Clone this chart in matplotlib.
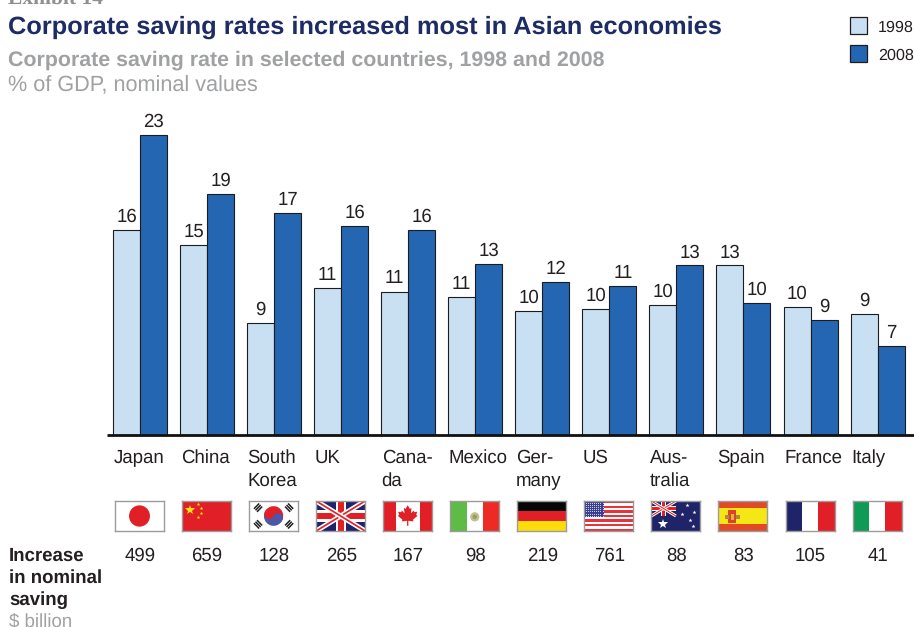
import numpy as np
import matplotlib
matplotlib.use("Agg")
import matplotlib.pyplot as plt
from matplotlib.patches import Rectangle, Circle, Wedge, Polygon

plt.rcParams['font.family'] = ['Liberation Sans', 'DejaVu Sans']
plt.rcParams['text.hinting'] = 'no_hinting'
plt.rcParams['text.hinting_factor'] = 8

countries = ["Japan", "China", "South\nKorea", "UK", "Cana-\nda", "Mexico", "Ger-\nmany", "US", "Aus-\ntralia", "Spain", "France", "Italy"]
flag_ids = ["jp", "cn", "kr", "uk", "ca", "mx", "de", "us", "au", "es", "fr", "it"]
rate_1998 = [15.7, 14.6, 8.6, 11.3, 11.0, 10.6, 9.5, 9.7, 10.0, 13.0, 9.8, 9.3]
rate_2008 = [23.0, 18.5, 17.0, 16.0, 15.7, 13.1, 11.7, 11.4, 13.0, 10.1, 8.8, 6.8]
labels_1998 = ["16", "15", "9", "11", "11", "11", "10", "10", "10", "13", "10", "9"]
labels_2008 = ["23", "19", "17", "16", "16", "13", "12", "11", "13", "10", "9", "7"]
increase = [499, 659, 128, 265, 167, 98, 219, 761, 88, 83, 105, 41]

W, H = 914, 627
C_LIGHT, C_DARK, C_EDGE = "#C9E0F3", "#2566B2", "#1C1C1C"
NAVY, GREY, INK = "#1D2C64", "#A0A1A3", "#231F20"
FS = 13.4

fig = plt.figure(figsize=(W / 100, H / 100), dpi=100, facecolor="white")

def px_axes(x0, y0, x1, y1):
    return fig.add_axes([x0 / W, 1 - y1 / H, (x1 - x0) / W, (y1 - y0) / H])

# ---- bars
BASE, TOP, PERIOD, C0 = 435, 100, 67.05, 140.0
ax = px_axes(107, TOP, 914, BASE)
ax.set_xlim((107 - C0) / PERIOD, (914 - C0) / PERIOD)
ax.set_ylim(0, (BASE - TOP) / 13.04)
ax.axis("off")
x = np.arange(len(countries))
bw = 27 / PERIOD
ax.bar(x - bw / 2, rate_1998, bw, color=C_LIGHT, edgecolor=C_EDGE, linewidth=0.8)
ax.bar(x + bw / 2, rate_2008, bw, color=C_DARK, edgecolor=C_EDGE, linewidth=0.8)
for xi, v, s in zip(x - bw / 2, rate_1998, labels_1998):
    ax.annotate(s, (xi, v), xytext=(0, 3), textcoords="offset points", ha="center", va="bottom", fontsize=FS, color=INK)
for xi, v, s in zip(x + bw / 2, rate_2008, labels_2008):
    ax.annotate(s, (xi, v), xytext=(0, 3), textcoords="offset points", ha="center", va="bottom", fontsize=FS, color=INK)
ax.plot([0, 1], [0, 0], transform=ax.transAxes, color="#111111", lw=2.0, clip_on=False, solid_capstyle="butt")

# ---- overlay in pixel coordinates
ov = fig.add_axes([0, 0, 1, 1], facecolor="none")
ov.set_xlim(0, W)
ov.set_ylim(H, 0)
ov.axis("off")

ov.text(8, 4, "Exhibit 14", fontsize=15.5, fontweight="bold", family="Liberation Serif", color="#8f8f8f", va="baseline")
ov.text(8, 34, "Corporate saving rates increased most in Asian economies", fontsize=18.3, fontweight="bold", color=NAVY, va="baseline")
ov.text(8, 66, "Corporate saving rate in selected countries, 1998 and 2008", fontsize=15.4, fontweight="bold", color=GREY, va="baseline")
ov.text(8, 91.5, "% of GDP, nominal values", fontsize=15.6, color=GREY, va="baseline")

for y, c, s in [(16.5, C_LIGHT, "1998"), (44.5, C_DARK, "2008")]:
    ov.add_patch(Rectangle((850, y), 17, 17, facecolor=c, edgecolor=C_EDGE, lw=0.9))
    ov.text(878, y + 15, s, fontsize=11.6, color=INK, va="baseline")

for i, name in enumerate(countries):
    cx = C0 + PERIOD * i
    for j, line in enumerate(name.split("\n")):
        ov.text(cx - 26.5, 463 + 23 * j, line, fontsize=FS, color=INK, va="baseline", ha="left")
    ov.text(cx, 561, str(increase[i]), fontsize=FS, color=INK, va="baseline", ha="center")

for y, s in [(561, "Increase"), (583, "in nominal"), (605, "saving")]:
    ov.text(9, y, s, fontsize=13.4, fontweight="bold", color=INK, va="baseline")
ov.text(9, 627, "$ billion", fontsize=FS, color=GREY, va="baseline")

# ---- flags
RED = "#E01F26"

def bands_v(a, cols, widths=None):
    widths = widths or [60 / len(cols)] * len(cols)
    xx = 0
    for c, w in zip(cols, widths):
        a.add_patch(Rectangle((xx, 0), w, 36, color=c, lw=0))
        xx += w

def bands_h(a, cols, heights=None):
    heights = heights or [36 / len(cols)] * len(cols)
    yy = 36
    for c, h in zip(cols, heights):
        yy -= h
        a.add_patch(Rectangle((0, yy), 60, h, color=c, lw=0))

def union(a, x1, y0, y1, scale=1.0):
    a.add_patch(Rectangle((0, y0), x1, y1 - y0, color="#1F2468", lw=0))
    cy, cx = (y0 + y1) / 2, x1 / 2
    sx, sy = x1 / 60, (y1 - y0) / 36
    for ya, yb in [(y0, y1), (y1, y0)]:
        a.plot([0, x1], [ya, yb], color="white", lw=3.6 * scale, solid_capstyle="butt")
        a.plot([0, x1], [ya, yb], color=RED, lw=1.2 * scale, solid_capstyle="butt")
    a.add_patch(Rectangle((cx - 6 * sx, y0), 12 * sx, y1 - y0, color="white", lw=0))
    a.add_patch(Rectangle((0, cy - 7 * sy), x1, 14 * sy, color="white", lw=0))
    a.add_patch(Rectangle((cx - 3.5 * sx, y0), 7 * sx, y1 - y0, color=RED, lw=0))
    a.add_patch(Rectangle((0, cy - 4 * sy), x1, 8 * sy, color=RED, lw=0))

def leaf(a, cx, cy, s, color):
    pts = np.array([(0, 10), (2, 6.5), (3.6, 7.5), (3, 2.5), (5.5, 5), (6.2, 3.5), (9, 4), (8, 1), (9.3, 0.2),
                    (5, -3.4), (5.5, -5), (0.6, -4.4), (0.6, -9), (-0.6, -9), (-0.6, -4.4), (-5.5, -5), (-5, -3.4),
                    (-9.3, 0.2), (-8, 1), (-9, 4), (-6.2, 3.5), (-5.5, 5), (-3, 2.5), (-3.6, 7.5), (-2, 6.5)], dtype=float)
    a.add_patch(Polygon(pts * s + [cx, cy], closed=True, color=color, lw=0))

def draw_flag(a, f):
    a.set_facecolor("white")
    if f == "jp":
        a.add_patch(Circle((30, 18), 12.8, color=RED, lw=0))
    elif f == "cn":
        bands_v(a, [RED])
        a.plot([10], [25.5], marker="*", color="#FBE216", ms=7.5, mew=0)
        a.plot([19.5, 23, 23, 19.5], [32, 27.5, 21.5, 17], ls="", marker="*", color="#FBE216", ms=2.8, mew=0)
    elif f == "kr":
        ang = -25
        r = 11.8
        a.add_patch(Wedge((30, 18), r, ang, ang + 180, color=RED, lw=0))
        a.add_patch(Wedge((30, 18), r, ang + 180, ang + 360, color="#4F56A6", lw=0))
        c, s = np.cos(np.radians(ang)) * r / 2, np.sin(np.radians(ang)) * r / 2
        a.add_patch(Circle((30 - c, 18 - s), r / 2, color=RED, lw=0))
        a.add_patch(Circle((30 + c, 18 + s), r / 2, color="#4F56A6", lw=0))
        for tx, ty, deg in [(11, 28, 135), (49, 28, 45), (11, 8, 45), (49, 8, 135)]:
            d = np.radians(deg)
            ux, uy = np.cos(d), np.sin(d)
            for k in (-2.6, 0, 2.6):
                px, py = tx + k * ux, ty + k * uy
                a.plot([px - 4.5 * uy, px + 4.5 * uy], [py + 4.5 * ux, py - 4.5 * ux], color="#222222", lw=1.1, solid_capstyle="butt")
    elif f == "uk":
        union(a, 60, 0, 36)
    elif f == "ca":
        bands_v(a, [RED, "white", RED], [16, 29, 15])
        leaf(a, 30, 18, 1.3, RED)
    elif f == "mx":
        bands_v(a, ["#5DBB46", "white", "#EE2A24"], [20.5, 19.5, 20])
        a.add_patch(Circle((30, 17), 5.6, color="#C9BC93", lw=0))
        a.add_patch(Circle((30, 17), 2.8, color="#8BA660", lw=0))
    elif f == "de":
        bands_h(a, ["#050505", RED, "#FBDD0C"])
    elif f == "us":
        for k in range(13):
            a.add_patch(Rectangle((0, 36 - (k + 1) * 36 / 13), 60, 36 / 13, color="#E8323C" if k % 2 == 0 else "white", lw=0))
        a.add_patch(Rectangle((0, 17), 24.5, 19, color="#3A3F8F", lw=0))
        xs, ys = np.meshgrid(np.arange(1.5, 24, 2.6), np.arange(18.5, 36, 2.5))
        a.plot(xs.ravel(), ys.ravel(), ls="", marker=".", ms=1.4, color="#D8D9EE", mew=0)
    elif f == "au":
        bands_v(a, ["#1F2468"])
        union(a, 30, 18, 36, scale=0.6)
        a.plot([14.5], [8.5], marker="*", color="white", ms=7.5, mew=0)
        a.plot([44, 37, 51, 52, 47], [31, 21, 6, 23, 13], ls="", marker="*", color="white", ms=3.0, mew=0)
    elif f == "es":
        bands_h(a, ["#E24A26", "#F5E616", "#E24A26"], [8, 20, 8])
        a.add_patch(Rectangle((12, 10), 10, 15, color="#D9442C", lw=0))
        a.add_patch(Rectangle((15, 13), 4, 8, color="#E8B23A", lw=0))
        a.plot([10.5, 23.5], [17, 17], ls="", marker="s", ms=2.4, color="#B5892F", mew=0)
    elif f == "fr":
        bands_v(a, ["#1F2468", "white", "#E01F26"])
    elif f == "it":
        bands_v(a, ["#0F9A55", "white", "#E01F26"])

for i, f in enumerate(flag_ids):
    cx = C0 + PERIOD * i - 0.5
    a = px_axes(cx - 24.5, 501, cx + 24.5, 531)
    a.set_xlim(0, 60)
    a.set_ylim(0, 36)
    a.set_xticks([])
    a.set_yticks([])
    draw_flag(a, f)
    for sp in a.spines.values():
        sp.set_color("#9C9C9C")
        sp.set_linewidth(1.0)

fig.savefig("out.png", dpi=100)
